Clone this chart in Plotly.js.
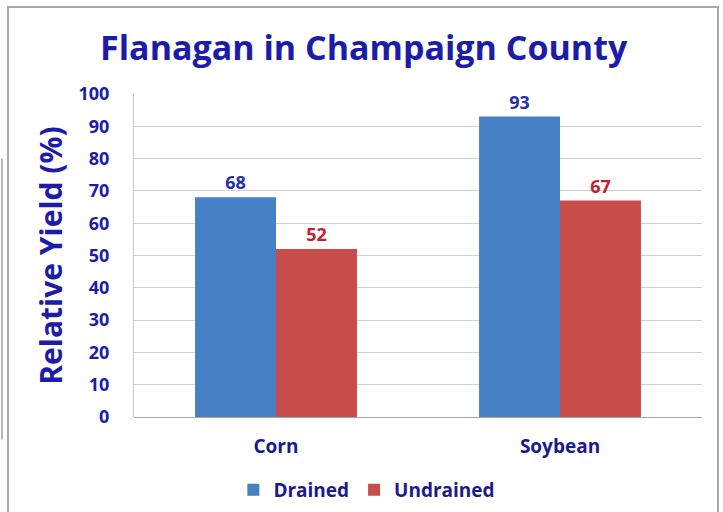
<!DOCTYPE html>
<html><head><meta charset="utf-8">
<script src="https://cdn.plot.ly/plotly-3.0.1.min.js"></script>
<style>html,body{margin:0;padding:0;background:#fff}#chart{width:723px;height:512px}</style>
</head><body><div id="chart"></div>
<script>
const categories = ["Corn", "Soybean"];
const drained = [68, 93];
const undrained = [52, 67];
const seriesNames = ["Drained", "Undrained"];
const yTicks = [0, 10, 20, 30, 40, 50, 60, 70, 80, 90, 100];

const font = "Open Sans, sans-serif";
const traces = [
  {type: "bar", name: seriesNames[0], x: categories, y: drained, text: drained.map(String),
   textposition: "outside", cliponaxis: false,
   textfont: {family: font, size: 18, color: "#2430ac", weight: "bold"},
   marker: {color: "#4580c4"}},
  {type: "bar", name: seriesNames[1], x: categories, y: undrained, text: undrained.map(String),
   textposition: "outside", cliponaxis: false,
   textfont: {family: font, size: 18, color: "#c0222e", weight: "bold"},
   marker: {color: "#c84c4a"}}
];
const layout = {
  width: 723, height: 512,
  margin: {l: 134, r: 21, t: 94, b: 95},
  paper_bgcolor: "#ffffff", plot_bgcolor: "#ffffff",
  barmode: "group", bargap: 0.43, bargroupgap: 0,
  showlegend: true,
  title: {text: "<b>Flanagan in Champaign County</b>", x: 0.503, xanchor: "center", y: 0.907, yanchor: "middle",
          font: {family: font, size: 34, color: "#1c1ca8"}},
  xaxis: {type: "category", automargin: false, showgrid: false, zeroline: false, showline: false, ticks: "",
          ticklabelstandoff: 16,
          tickfont: {family: font, size: 19, color: "#1a1a8c", weight: "bold"}},
  yaxis: {range: [0, 100], automargin: false, tickvals: yTicks, showgrid: true, gridcolor: "#d0d0d0", gridwidth: 1,
          zeroline: true, zerolinecolor: "#a8a8a8", showline: true, linecolor: "#c8c8c8",
          ticks: "", ticklabelstandoff: 20,
          tickfont: {family: font, size: 18, color: "#1c1ca8", weight: "bold"},
          title: {text: "<b>Relative Yield (%)</b>", standoff: 7, font: {family: font, size: 30, color: "#1c1ca8"}}},
  legend: {orientation: "h", x: 0.41, xanchor: "center", yref: "container", y: 0.043, yanchor: "middle",
           font: {family: font, size: 19, color: "#1a1a8c", weight: "bold"}, itemwidth: 30},
  shapes: [
    {type: "rect", xref: "paper", yref: "paper", x0: -0.2218, x1: 1.0282, y0: -0.32, y1: 1.2693,
     line: {color: "#a8a8a8", width: 2}, fillcolor: "rgba(0,0,0,0)", layer: "below"},
    {type: "line", xref: "paper", yref: "paper", x0: -0.2324, x1: -0.2324, y0: -0.07, y1: 0.80,
     line: {color: "#b8b8b8", width: 2}, layer: "below"}
  ]
};
Plotly.newPlot("chart", traces, layout, {displayModeBar: false, staticPlot: true});
</script></body></html>
